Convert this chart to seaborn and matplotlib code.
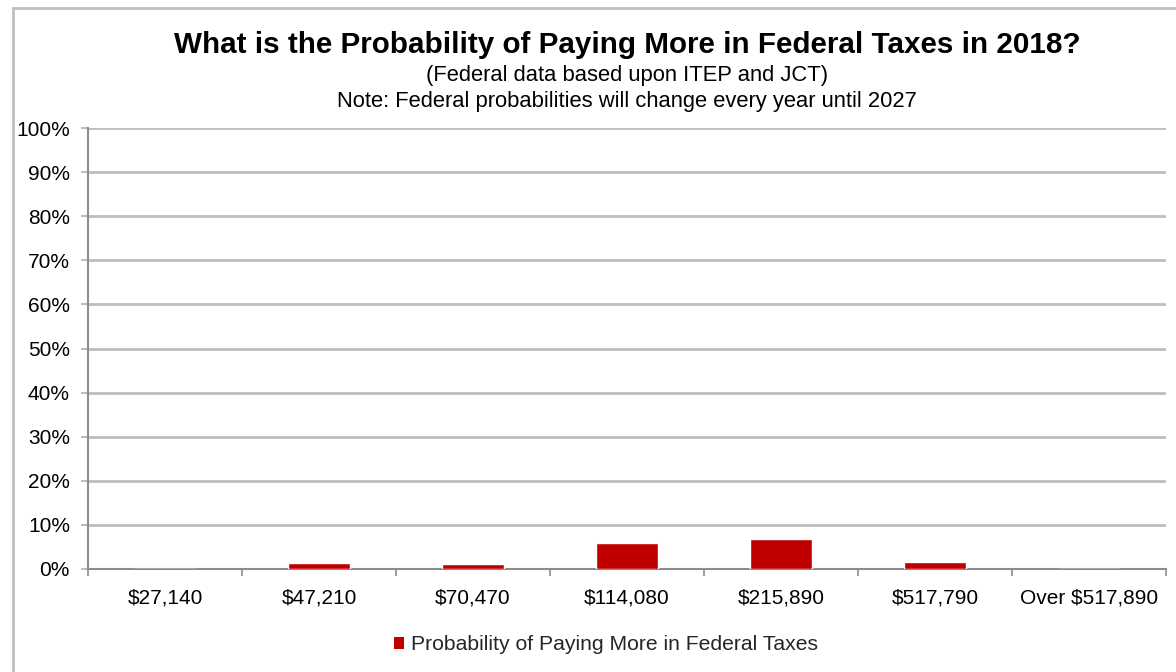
import matplotlib
matplotlib.use("Agg")
import matplotlib.pyplot as plt
from matplotlib.patches import Patch, Rectangle
from matplotlib.ticker import FixedLocator, PercentFormatter
import seaborn as sns
import pandas as pd

# Income levels and probability (%) of paying more in federal taxes
income_levels = ["$27,140", "$47,210", "$70,470", "$114,080", "$215,890", "$517,790", "Over $517,890"]
probability_pct = [0.1, 1.3, 1.15, 5.8, 6.8, 1.7, 0.1]
series_name = "Probability of Paying More in Federal Taxes"

title = "What is the Probability of Paying More in Federal Taxes in 2018?"
subtitle_1 = "(Federal data based upon ITEP and JCT)"
subtitle_2 = "Note: Federal probabilities will change every year until 2027"

bar_color = "#C00000"
grid_color = "#BDBDBD"
axis_color = "#8C8C8C"

sns.set_theme(style="white")
plt.rcParams["font.family"] = ["Liberation Sans", "DejaVu Sans"]

df = pd.DataFrame({"income": income_levels, "prob": probability_pct})

fig = plt.figure(figsize=(11.76, 6.72), dpi=100)
ax = fig.add_axes([88 / 1176, 1 - 569 / 672, (1166 - 88) / 1176, (569 - 128) / 672])

sns.barplot(data=df, x="income", y="prob", color=bar_color, width=0.4,
            saturation=1, ax=ax, zorder=3)

ax.set_ylim(0, 100)
ax.set_xlim(-0.5, len(income_levels) - 0.5)
ax.yaxis.set_major_locator(FixedLocator(range(0, 101, 10)))
ax.yaxis.set_major_formatter(PercentFormatter(decimals=0))
ax.grid(axis="y", color=grid_color, linewidth=2, zorder=0)
ax.set_axisbelow(True)
ax.set_xlabel("")
ax.set_ylabel("")

# category separators on the x axis
ax.xaxis.set_minor_locator(FixedLocator([i - 0.5 for i in range(len(income_levels) + 1)]))
ax.tick_params(axis="x", which="major", length=0, pad=14, labelsize=15, labelcolor="black")
ax.tick_params(axis="x", which="minor", length=5, width=1.2, color=axis_color, bottom=True)
ax.tick_params(axis="y", which="major", length=5, width=1.5, color=grid_color, left=True,
               labelsize=15, labelcolor="black", pad=8)

for side in ["top", "right"]:
    ax.spines[side].set_visible(False)
for side in ["left", "bottom"]:
    ax.spines[side].set_color(axis_color)
    ax.spines[side].set_linewidth(1.5)

# outer chart frame
fig.patches.append(Rectangle((13 / 1176, -0.05), 1.1, 1 - 8 / 672 + 0.05,
                             transform=fig.transFigure, fill=False,
                             edgecolor="#BFBFBF", linewidth=2, zorder=0))

fig.text(627 / 1176, 1 - 45 / 672, title, ha="center", va="center",
         fontsize=21.3, fontweight="bold", color="black")
fig.text(627 / 1176, 1 - 75 / 672, subtitle_1, ha="center", va="center",
         fontsize=15.8, color="black")
fig.text(627 / 1176, 1 - 101 / 672, subtitle_2, ha="center", va="center",
         fontsize=15.8, color="black")

fig.legend(handles=[Patch(facecolor=bar_color, edgecolor="none", label=series_name)],
           loc="center", bbox_to_anchor=(606 / 1176, 1 - 645 / 672), frameon=False,
           fontsize=15.2, handlelength=0.5, handleheight=0.5, handletextpad=0.35)

fig.savefig("out.png", dpi=100)
